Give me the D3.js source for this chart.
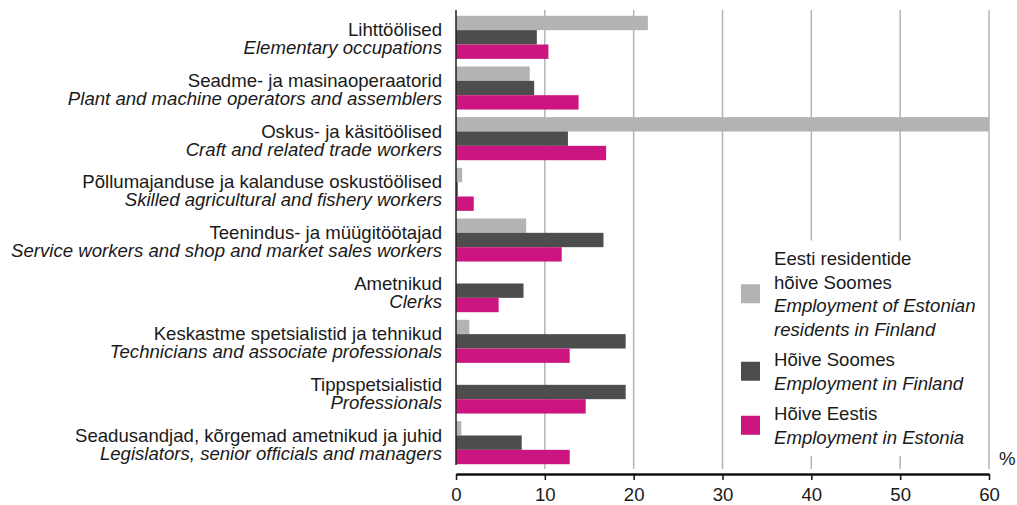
<!DOCTYPE html>
<html>
<head>
<meta charset="utf-8">
<script src="https://cdn.jsdelivr.net/npm/d3@7"></script>
<style>
  html, body { margin: 0; padding: 0; background: #fff; }
  svg { display: block; font-family: "Liberation Sans", Arial, sans-serif; }
</style>
</head>
<body>
<div id="chart"></div>
<script>
// Occupation groups, Estonian name and English translation
const categoriesEt = [
    "Lihttöölised",
    "Seadme- ja masinaoperaatorid",
    "Oskus- ja käsitöölised",
    "Põllumajanduse ja kalanduse oskustöölised",
    "Teenindus- ja müügitöötajad",
    "Ametnikud",
    "Keskastme spetsialistid ja tehnikud",
    "Tippspetsialistid",
    "Seadusandjad, kõrgemad ametnikud ja juhid"
];
const categoriesEn = [
    "Elementary occupations",
    "Plant and machine operators and assemblers",
    "Craft and related trade workers",
    "Skilled agricultural and fishery workers",
    "Service workers and shop and market sales workers",
    "Clerks",
    "Technicians and associate professionals",
    "Professionals",
    "Legislators, senior officials and managers"
];

// Series values, %
const residentsFinland = [21.6, 8.3, 60, 0.7, 7.9, 0, 1.5, 0, 0.6];
const employmentFinland = [9.1, 8.8, 12.6, 0.2, 16.6, 7.6, 19.1, 19.1, 7.4];
const employmentEstonia = [10.4, 13.8, 16.9, 2.0, 11.9, 4.8, 12.8, 14.6, 12.8];

const xTicks = [0, 10, 20, 30, 40, 50, 60];

const legendItems = [
    { key: "residents", et: ["Eesti residentide", "hõive Soomes"], en: ["Employment of Estonian", "residents in Finland"] },
    { key: "finland", et: ["Hõive Soomes"], en: ["Employment in Finland"] },
    { key: "estonia", et: ["Hõive Eestis"], en: ["Employment in Estonia"] }
];

const seriesKeys = ["residents", "finland", "estonia"];
const seriesValues = { residents: residentsFinland, finland: employmentFinland, estonia: employmentEstonia };
const color = d3.scaleOrdinal()
    .domain(seriesKeys)
    .range(["#b3b3b3", "#4d4d4d", "#cc1580"]);

const width = 1017, height = 505;
const fontSize = 18.6;

const svg = d3.select("#chart").append("svg")
    .attr("width", width)
    .attr("height", height);

// Scales
const x = d3.scaleLinear().domain([0, 60]).range([456, 989]).clamp(true);
const y = d3.scaleBand()
    .domain(d3.range(categoriesEt.length))
    .range([12, 468])
    .paddingInner(0.15)
    .paddingOuter(0.075);
const ySub = d3.scaleBand().domain(seriesKeys).range([0, y.bandwidth()]);

// Gridlines
svg.append("g")
    .selectAll("line")
    .data(xTicks.filter(d => d > 0))
    .join("line")
    .attr("x1", d => x(d)).attr("x2", d => x(d))
    .attr("y1", 10).attr("y2", 469)
    .attr("stroke", "#b3b3b3")
    .attr("stroke-width", 1.5);

// Legend background hides the gridlines behind it
svg.append("rect")
    .attr("x", 730).attr("y", 240.5)
    .attr("width", 252).attr("height", 215.5)
    .attr("fill", "#fff");

// Bars
const groups = svg.append("g")
    .selectAll("g")
    .data(categoriesEt.map((c, i) => i))
    .join("g")
    .attr("transform", i => `translate(0,${y(i)})`);

groups.selectAll("rect")
    .data(i => seriesKeys.map(k => ({ key: k, value: seriesValues[k][i] })))
    .join("rect")
    .attr("x", x(0))
    .attr("y", d => ySub(d.key))
    .attr("width", d => x(d.value) - x(0))
    .attr("height", ySub.bandwidth())
    .attr("fill", d => color(d.key));

// Vertical axis line
svg.append("line")
    .attr("x1", x(0)).attr("x2", x(0))
    .attr("y1", 10).attr("y2", 465)
    .attr("stroke", "#222")
    .attr("stroke-width", 1.5);

// Category labels
const labels = svg.append("g")
    .attr("font-size", fontSize)
    .attr("text-anchor", "end")
    .attr("fill", "#1a1a1a");

categoriesEt.forEach((c, i) => {
    const cy = y(i) + y.bandwidth() / 2;
    labels.append("text")
        .attr("x", 442).attr("y", cy - 1)
        .text(c);
    labels.append("text")
        .attr("x", 442).attr("y", cy + 17)
        .attr("font-style", "italic")
        .text(categoriesEn[i]);
});

// X axis
const xAxis = svg.append("g")
    .attr("transform", "translate(0,474)")
    .call(d3.axisBottom(x).tickValues(xTicks).tickSize(6).tickSizeOuter(0).tickPadding(8));
xAxis.select(".domain").attr("stroke", "#111").attr("stroke-width", 2.5);
xAxis.selectAll(".tick line").attr("stroke", "#111").attr("stroke-width", 1.5);
xAxis.selectAll("text")
    .attr("font-size", fontSize)
    .attr("font-family", "Liberation Sans, Arial, sans-serif")
    .attr("fill", "#1a1a1a");

svg.append("text")
    .attr("x", 999).attr("y", 465)
    .attr("font-size", fontSize)
    .attr("fill", "#1a1a1a")
    .text("%");

// Legend
const legendTops = [265, 366, 420];
const lineH = 23.5;
const legend = svg.append("g").attr("font-size", fontSize).attr("fill", "#1a1a1a");

legendItems.forEach((item, i) => {
    const lines = item.et.map(t => ({ t, it: false })).concat(item.en.map(t => ({ t, it: true })));
    const base = legendTops[i];
    lines.forEach((l, j) => {
        legend.append("text")
            .attr("x", 774)
            .attr("y", base + j * lineH)
            .attr("font-style", l.it ? "italic" : null)
            .text(l.t);
    });
    const mid = (base - 13 + base + (lines.length - 1) * lineH) / 2;
    legend.append("rect")
        .attr("x", 741).attr("y", mid - 9.5)
        .attr("width", 19).attr("height", 19)
        .attr("fill", color(item.key));
});
</script>
</body>
</html>
